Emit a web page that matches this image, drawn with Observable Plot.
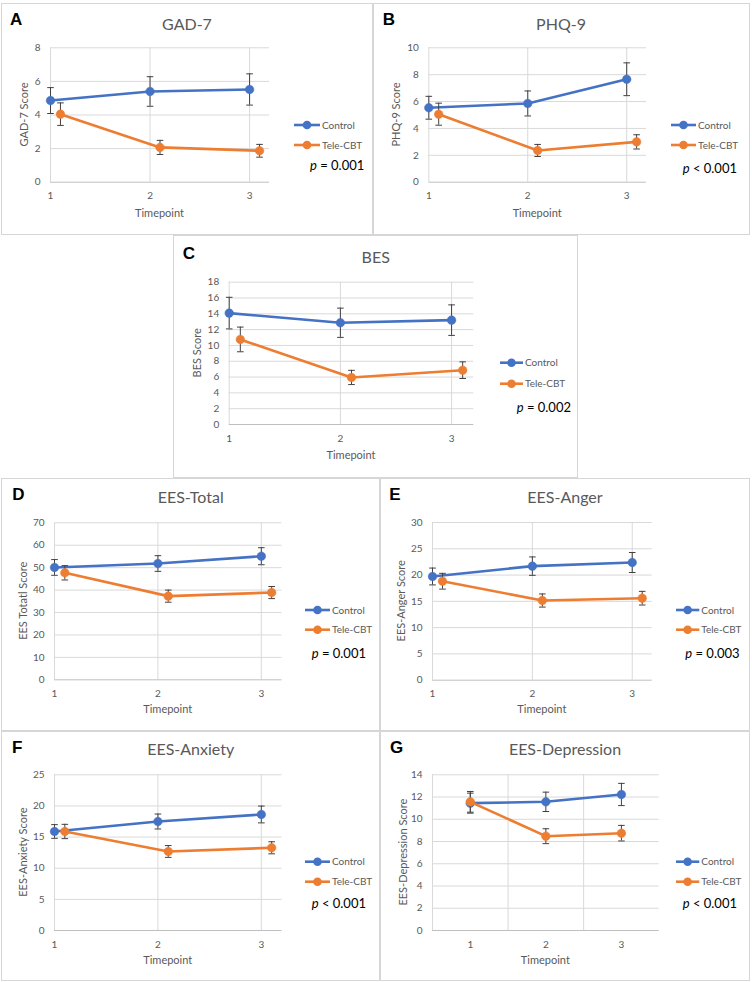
<!DOCTYPE html>
<html>
<head>
<meta charset="utf-8">
<script src="https://cdn.jsdelivr.net/npm/d3@7"></script>
<script src="https://cdn.jsdelivr.net/npm/@observablehq/plot@0.6"></script>
<style>
  body { margin: 0; background: #ffffff; }
  #page { position: relative; width: 752px; height: 982px; overflow: hidden; background: #fff; }
  .box { position: absolute; box-sizing: border-box; border: 1.5px solid #d6d6d6; }
  .chart { position: absolute; }
</style>
</head>
<body>
<div id="page"></div>
<script>
// ---------------- DATA ----------------
const timepoints = [1, 2, 3];
const teleTimepoints = [1.1, 2.1, 3.1];      // Tele-CBT points are drawn slightly offset (panels A–F)
const groups = ["Control", "Tele-CBT"];
const xTickLabels = [1, 2, 3];
const xAxisTitle = "Timepoint";

const panelLetters = ["A", "B", "C", "D", "E", "F", "G"];
const panelTitles = ["GAD-7", "PHQ-9", "BES", "EES-Total", "EES-Anger", "EES-Anxiety", "EES-Depression"];
const yAxisTitles = ["GAD-7 Score", "PHQ-9 Score", "BES Score", "EES Totatl Score", "EES-Anger Score", "EES-Anxiety Score", "EES-Depression Score"];
const pValueTexts = ["= 0.001", "< 0.001", "= 0.002", "= 0.001", "= 0.003", "< 0.001", "< 0.001"];

const gad7Ticks = [0, 2, 4, 6, 8];
const phq9Ticks = [0, 2, 4, 6, 8, 10];
const besTicks = [0, 2, 4, 6, 8, 10, 12, 14, 16, 18];
const eesTotalTicks = [0, 10, 20, 30, 40, 50, 60, 70];
const eesAngerTicks = [0, 5, 10, 15, 20, 25, 30];
const eesAnxietyTicks = [0, 5, 10, 15, 20, 25];
const eesDepressionTicks = [0, 2, 4, 6, 8, 10, 12, 14];

const gad7Control = [4.86, 5.40, 5.52];
const gad7ControlErr = [0.77, 0.88, 0.93];
const gad7Tele = [4.05, 2.07, 1.87];
const gad7TeleErr = [0.67, 0.42, 0.38];

const phq9Control = [5.54, 5.86, 7.66];
const phq9ControlErr = [0.85, 0.93, 1.22];
const phq9Tele = [5.06, 2.36, 3.00];
const phq9TeleErr = [0.82, 0.45, 0.53];

const besControl = [14.09, 12.87, 13.20];
const besControlErr = [2.00, 1.85, 1.93];
const besTele = [10.76, 5.95, 6.87];
const besTeleErr = [1.56, 0.90, 1.05];

const eesTotalControl = [50.1, 51.85, 55.1];
const eesTotalControlErr = [3.5, 3.5, 3.8];
const eesTotalTele = [47.7, 37.3, 38.9];
const eesTotalTeleErr = [3.2, 2.7, 2.7];

const eesAngerControl = [19.73, 21.70, 22.39];
const eesAngerControlErr = [1.60, 1.75, 1.90];
const eesAngerTele = [18.83, 15.16, 15.60];
const eesAngerTeleErr = [1.50, 1.25, 1.30];

const eesAnxietyControl = [15.90, 17.50, 18.63];
const eesAnxietyControlErr = [1.10, 1.20, 1.35];
const eesAnxietyTele = [15.90, 12.69, 13.28];
const eesAnxietyTeleErr = [1.15, 0.95, 0.97];

const eesDepressionControl = [11.45, 11.57, 12.23];
const eesDepressionControlErr = [0.90, 0.87, 1.00];
const eesDepressionTele = [11.57, 8.48, 8.75];
const eesDepressionTeleErr = [0.93, 0.67, 0.70];

// ---------------- LAYOUT / STYLE ----------------
const colors = { "Control": "#4472C4", "Tele-CBT": "#ED7D31" };
const errColor = "#404040";
const gridColor = "#d9d9d9";
const textGray = "#595959";

// box: panel frame; plot: plotting area (page coordinates)
const layout = [
  { box: [1, 3, 373, 235],   plot: [50, 47.3, 269, 181.7],    letter: [10, 25],     title: [187, 30],     ylabX: 23.5,  xlabY: 217.3, leg: [294, 320, 125, 145],     p: [310, 169.7] },
  { box: [373, 3, 750, 235], plot: [428.3, 47.3, 646, 181.7], letter: [382.7, 25],  title: [561, 30],     ylabX: 396,   xlabY: 217.3, leg: [671, 696, 125, 145],     p: [682.7, 173] },
  { box: [173, 235, 578, 478], plot: [228.7, 281.7, 473.3, 424], letter: [182.7, 259], title: [375.7, 262.7], ylabX: 197.3, xlabY: 459.3, leg: [500, 523, 362.7, 383.7], p: [516.7, 411.5] },
  { box: [1, 478, 380, 731], plot: [54, 522.3, 281.5, 679.3], letter: [12.3, 500],  title: [190.7, 503.3], ylabX: 23.3, xlabY: 713.3, leg: [305, 330, 610, 629.7],   p: [311.7, 657.5] },
  { box: [380, 478, 750, 731], plot: [432, 522, 651.7, 679.7], letter: [389.3, 500], title: [565, 503.3],  ylabX: 401,  xlabY: 713.3, leg: [676, 699.3, 610, 629.7], p: [685.3, 657.5] },
  { box: [1, 731, 380, 981], plot: [54, 774.3, 281.5, 930],   letter: [12, 753],    title: [190.7, 755],   ylabX: 23,   xlabY: 963.7, leg: [305, 330, 861.7, 881.7], p: [311.7, 908.2] },
  { box: [380, 731, 750, 981], plot: [432, 774.3, 658.7, 930], letter: [390, 753],  title: [565, 755],    ylabX: 402.7, xlabY: 963.7, leg: [676, 699.3, 861.7, 881.7], p: [682.7, 908.2] }
];

const measures = [
  { ticks: gad7Ticks, c: gad7Control, ce: gad7ControlErr, t: gad7Tele, te: gad7TeleErr, tx: teleTimepoints, xDomain: [1, 3.2], vgrid: [2, 3] },
  { ticks: phq9Ticks, c: phq9Control, ce: phq9ControlErr, t: phq9Tele, te: phq9TeleErr, tx: teleTimepoints, xDomain: [1, 3.2], vgrid: [2, 3] },
  { ticks: besTicks, c: besControl, ce: besControlErr, t: besTele, te: besTeleErr, tx: teleTimepoints, xDomain: [1, 3.2], vgrid: [2, 3] },
  { ticks: eesTotalTicks, c: eesTotalControl, ce: eesTotalControlErr, t: eesTotalTele, te: eesTotalTeleErr, tx: teleTimepoints, xDomain: [1, 3.2], vgrid: [2, 3] },
  { ticks: eesAngerTicks, c: eesAngerControl, ce: eesAngerControlErr, t: eesAngerTele, te: eesAngerTeleErr, tx: teleTimepoints, xDomain: [1, 3.2], vgrid: [2, 3] },
  { ticks: eesAnxietyTicks, c: eesAnxietyControl, ce: eesAnxietyControlErr, t: eesAnxietyTele, te: eesAnxietyTeleErr, tx: teleTimepoints, xDomain: [1, 3.2], vgrid: [2, 3] },
  { ticks: eesDepressionTicks, c: eesDepressionControl, ce: eesDepressionControlErr, t: eesDepressionTele, te: eesDepressionTeleErr, tx: timepoints, xDomain: [0.5, 3.5], vgrid: [1.5, 2.5] }
];

// horizontal error-bar cap as a custom symbol
const capSymbol = {
  draw(context, size) {
    const r = Math.sqrt(size / Math.PI);
    context.moveTo(-r, 0);
    context.lineTo(r, 0);
  }
};

const page = document.getElementById("page");

measures.forEach((m, i) => {
  const L = layout[i];
  const [bx0, by0, bx1, by1] = L.box;
  const [px0, py0, px1, py1] = L.plot;
  const W = bx1 - bx0, H = by1 - by0;

  const box = document.createElement("div");
  box.className = "box";
  Object.assign(box.style, { left: bx0 + "px", top: by0 + "px", width: W + "px", height: H + "px" });
  page.appendChild(box);

  const rows = [];
  timepoints.forEach((tp, k) => {
    rows.push({ group: groups[0], x: tp, y: m.c[k], lo: m.c[k] - m.ce[k], hi: m.c[k] + m.ce[k] });
  });
  m.tx.forEach((tp, k) => {
    rows.push({ group: groups[1], x: tp, y: m.t[k], lo: m.t[k] - m.te[k], hi: m.t[k] + m.te[k] });
  });
  const ymax = m.ticks[m.ticks.length - 1];

  const seriesMarks = groups.flatMap(g => {
    const d = rows.filter(r => r.group === g);
    return [
      Plot.ruleX(d, { x: "x", y1: "lo", y2: "hi", stroke: errColor, strokeWidth: 1 }),
      Plot.dot(d, { x: "x", y: "lo", symbol: capSymbol, r: 3.3, fill: "none", stroke: errColor, strokeWidth: 1 }),
      Plot.dot(d, { x: "x", y: "hi", symbol: capSymbol, r: 3.3, fill: "none", stroke: errColor, strokeWidth: 1 }),
      Plot.line(d, { x: "x", y: "y", stroke: colors[g], strokeWidth: 2.6 }),
      Plot.dot(d, { x: "x", y: "y", r: 4.3, fill: colors[g], stroke: colors[g], strokeWidth: 0.5 })
    ];
  });

  const chart = Plot.plot({
    width: W,
    height: H,
    marginLeft: px0 - bx0,
    marginRight: bx1 - px1,
    marginTop: py0 - by0,
    marginBottom: by1 - py1,
    style: { fontFamily: "Lato, 'Open Sans', sans-serif", fontSize: "10px", color: textGray, background: "transparent", overflow: "visible" },
    x: { type: "linear", domain: m.xDomain, ticks: xTickLabels, tickFormat: d => String(d), tickSize: 0, tickPadding: 10, label: null },
    y: { type: "linear", domain: [0, ymax], ticks: m.ticks, tickFormat: d => String(d), tickSize: 0, tickPadding: 10, label: null },
    marks: [
      Plot.ruleY(m.ticks.filter(t => t > 0), { stroke: gridColor, strokeWidth: 1 }),
      Plot.ruleX(m.vgrid, { stroke: gridColor, strokeWidth: 1 }),
      Plot.ruleX([m.xDomain[0]], { stroke: gridColor, strokeWidth: 1 }),
      Plot.ruleY([0], { stroke: "#bfbfbf", strokeWidth: 1 }),
      ...seriesMarks
    ]
  });
  chart.classList.add("chart");
  chart.style.left = bx0 + "px";
  chart.style.top = by0 + "px";
  page.appendChild(chart);

  // annotations in page coordinates
  const g = d3.select(chart).append("g").attr("transform", `translate(${-bx0},${-by0})`);

  g.append("text").attr("x", L.letter[0]).attr("y", L.letter[1])
    .attr("text-anchor", "start")
    .attr("font-family", "'Liberation Sans', Arial, sans-serif").attr("font-weight", "bold")
    .attr("font-size", 17).attr("fill", "#000").text(panelLetters[i]);

  g.append("text").attr("x", L.title[0]).attr("y", L.title[1])
    .attr("text-anchor", "middle").attr("font-family", "Lato, sans-serif")
    .attr("font-size", 16).attr("fill", textGray).text(panelTitles[i]);

  const midY = (py0 + py1) / 2;
  g.append("text").attr("transform", `translate(${L.ylabX + 4},${midY}) rotate(-90)`)
    .attr("text-anchor", "middle").attr("font-family", "Lato, sans-serif")
    .attr("font-size", 11).attr("fill", textGray).text(yAxisTitles[i]);

  g.append("text").attr("x", (px0 + px1) / 2).attr("y", L.xlabY)
    .attr("text-anchor", "middle").attr("font-family", "Lato, sans-serif")
    .attr("font-size", 11).attr("fill", textGray).text(xAxisTitle);

  const [lx0, lx1, ly1, ly2] = L.leg;
  [ly1, ly2].forEach((ly, k) => {
    const col = colors[groups[k]];
    g.append("line").attr("x1", lx0).attr("x2", lx1).attr("y1", ly).attr("y2", ly)
      .attr("stroke", col).attr("stroke-width", 2.6);
    g.append("circle").attr("cx", (lx0 + lx1) / 2).attr("cy", ly).attr("r", 4.3).attr("fill", col);
    g.append("text").attr("x", lx1 + 2).attr("y", ly + 3.6)
      .attr("text-anchor", "start")
      .attr("font-family", "Lato, sans-serif").attr("font-size", 10).attr("fill", textGray)
      .text(groups[k]);
  });

  const pt = g.append("text").attr("x", L.p[0]).attr("y", L.p[1])
    .attr("text-anchor", "start")
    .attr("font-family", "Lato, sans-serif").attr("font-size", 13).attr("fill", "#000");
  pt.append("tspan").attr("font-style", "italic").text("p");
  pt.append("tspan").text(" " + pValueTexts[i]);
});
</script>
</body>
</html>
